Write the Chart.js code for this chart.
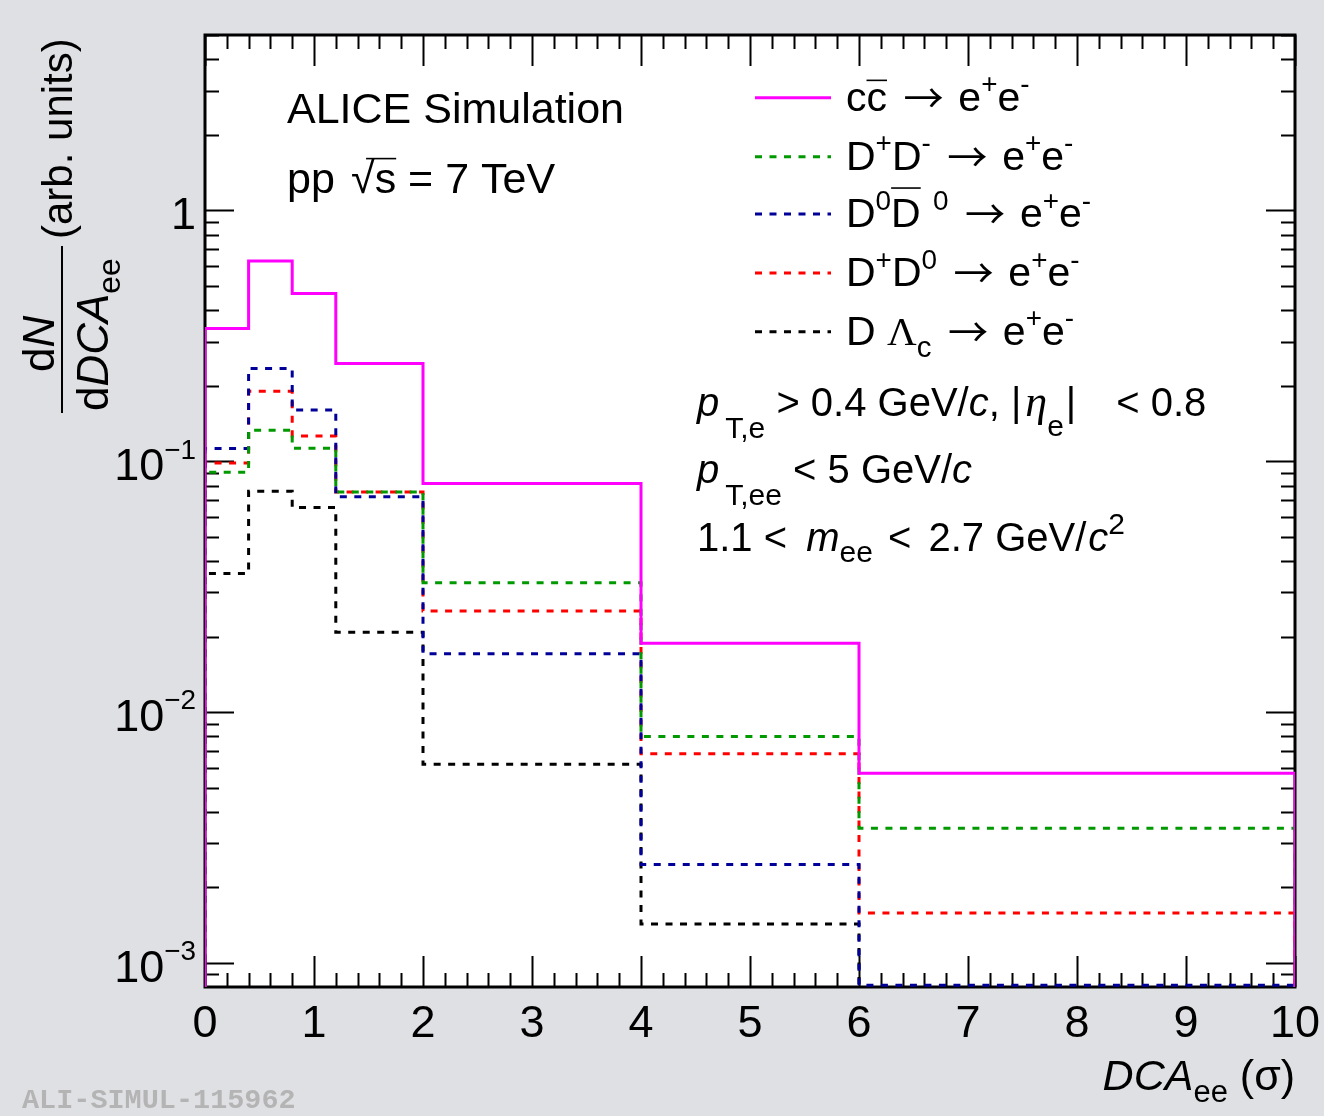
<!DOCTYPE html>
<html>
<head>
<meta charset="utf-8">
<script src="https://cdn.jsdelivr.net/npm/chart.js@4/dist/chart.umd.min.js"></script>
<style>
  html, body { margin: 0; padding: 0; background: #dfe0e4; }
  #wrap { width: 1324px; height: 1116px; }
</style>
</head>
<body>
<div id="wrap"><canvas id="dcaChart" width="1324" height="1116"></canvas></div>
<script>
// bin edges of the DCA_ee histogram (in sigma)
const binEdges = [0, 0.4, 0.8, 1.2, 2, 4, 6, 10];

// dN/dDCA_ee per bin (arb. units)
const ccbarToEE   = [0.338, 0.628, 0.466, 0.245, 0.0815, 0.0188, 0.0057];
const dPlusDMinus = [0.0904, 0.133, 0.1126, 0.0754, 0.0328, 0.0080, 0.00344];
const d0D0bar     = [0.1123, 0.234, 0.160, 0.0721, 0.0171, 0.00247, 0.000815];
const dPlusD0     = [0.0983, 0.190, 0.126, 0.0754, 0.0253, 0.00682, 0.00158];
const dLambdaC    = [0.0357, 0.0759, 0.0654, 0.0208, 0.00619, 0.00143, 0.0006];

const seriesNames  = ['cc̄ → e⁺e⁻', 'D⁺D⁻ → e⁺e⁻', 'D⁰D̄⁰ → e⁺e⁻', 'D⁺D⁰ → e⁺e⁻', 'D Λc → e⁺e⁻'];
const seriesColors = ['#ff00ff', '#009900', '#000099', '#ff0000', '#000000'];

// axes
const xMin = 0, xMax = 10;
const yMin = 8.02e-4, yMax = 5.0;
const xTicks = [0, 1, 2, 3, 4, 5, 6, 7, 8, 9, 10];
const yTickExponents = [-3, -2, -1, 0];

const SANS  = '"Liberation Sans", Arial, Helvetica, sans-serif';
const SERIF = '"Liberation Serif", "Times New Roman", serif';
const MONO  = '"Liberation Mono", "Courier New", monospace';
const ARROWFONT = '"Noto Sans CJK JP", "DejaVu Sans", sans-serif';

// turn per-bin values into a stepped outline that starts and ends on the axis floor
function toSteps(values) {
    const pts = [{ x: binEdges[0], y: yMin * 0.5 }];
    values.forEach((v, i) => pts.push({ x: binEdges[i], y: v }));
    const last = binEdges[binEdges.length - 1];
    pts.push({ x: last, y: values[values.length - 1] });
    pts.push({ x: last, y: yMin * 0.5 });
    return pts;
}

const seriesValues = [ccbarToEE, dPlusDMinus, d0D0bar, dPlusD0, dLambdaC];

const datasets = seriesValues.map((vals, i) => ({
    label: seriesNames[i],
    data: toSteps(vals),
    borderColor: seriesColors[i],
    borderWidth: 3,
    borderDash: i === 0 ? [] : [7, 7.5],
    stepped: 'before',
    pointRadius: 0,
    fill: false
}));

// ---- small rich-text helper (sub/superscripts, italics, overbars) ----
function fontFor(p, size) {
    const fam = p.fam || (p.serif ? SERIF : SANS);
    return (p.it ? 'italic ' : '') + (size * (p.sc || 1)).toFixed(1) + 'px ' + fam;
}
function drawRich(ctx, x, y, parts, size, align) {
    let total = 0;
    parts.forEach(p => {
        ctx.font = fontFor(p, size);
        total += (p.pre || 0) * size + ctx.measureText(p.t).width + (p.post || 0) * size;
    });
    let cx = align === 'right' ? x - total : (align === 'center' ? x - total / 2 : x);
    parts.forEach(p => {
        ctx.font = fontFor(p, size);
        cx += (p.pre || 0) * size;
        const w = ctx.measureText(p.t).width;
        const by = y + (p.dy || 0) * size;
        ctx.fillText(p.t, cx, by);
        if (p.bar) {
            ctx.save();
            ctx.lineWidth = 1.6;
            ctx.strokeStyle = ctx.fillStyle;
            ctx.beginPath();
            ctx.moveTo(cx + (p.barL || 0) * size, by - p.bar * size);
            ctx.lineTo(cx + w, by - p.bar * size);
            ctx.stroke();
            ctx.restore();
        }
        cx += w + (p.post || 0) * size;
    });
}
const sup = (t, extra) => Object.assign({ t: t, sc: 0.68, dy: -0.42 }, extra || {});
const sub = (t, dy, extra) => Object.assign({ t: t, sc: 0.72, dy: dy }, extra || {});
const arrow = { t: '→', fam: ARROWFONT, sc: 0.98, dy: 0.06, pre: 0.4, post: 0.36 };
const eePair = [{ t: 'e' }, sup('+'), { t: 'e' }, sup('-')];

const legendLabels = [
    [{ t: 'c' }, { t: 'c', bar: 0.74 }, arrow, ...eePair],
    [{ t: 'D' }, sup('+'), { t: 'D' }, sup('-'), arrow, ...eePair],
    [{ t: 'D' }, sup('0'), { t: 'D', bar: 0.95 }, sup('0', { pre: 0.3 }), arrow, ...eePair],
    [{ t: 'D' }, sup('+'), { t: 'D' }, sup('0'), arrow, ...eePair],
    [{ t: 'D ' }, { t: 'Λ', serif: true }, sub('c', 0.3), arrow, ...eePair]
];

const decorPlugin = {
    id: 'rootStyle',
    beforeDraw(chart) {
        const { ctx, chartArea: a } = chart;
        ctx.save();
        ctx.fillStyle = '#dfe0e4';
        ctx.fillRect(0, 0, chart.width, chart.height);
        ctx.fillStyle = '#ffffff';
        ctx.fillRect(a.left, a.top, a.right - a.left, a.bottom - a.top);
        ctx.restore();
    },
    beforeDatasetsDraw(chart) {
        const { ctx, chartArea: a, scales: { x, y } } = chart;
        ctx.save();
        ctx.strokeStyle = '#000';
        ctx.lineWidth = 2;
        ctx.beginPath();
        // x ticks: major every 1, minor every 0.2, bottom and top
        for (let k = 0; k <= 50; k++) {
            const v = xMin + k * 0.2;
            const px = Math.round(x.getPixelForValue(v)) + 0.5;
            const len = (k % 5 === 0) ? 31 : 14;
            ctx.moveTo(px, a.bottom); ctx.lineTo(px, a.bottom - len);
            ctx.moveTo(px, a.top); ctx.lineTo(px, a.top + len);
        }
        // y ticks on log scale: decades + 2..9 minors, left and right
        for (let e = -4; e <= 1; e++) {
            for (let m = 1; m <= 9; m++) {
                const v = m * Math.pow(10, e);
                if (v < yMin || v > yMax) continue;
                const py = Math.round(y.getPixelForValue(v)) + 0.5;
                const len = m === 1 ? 29 : 14;
                ctx.moveTo(a.left, py); ctx.lineTo(a.left + len, py);
                ctx.moveTo(a.right, py); ctx.lineTo(a.right - len, py);
            }
        }
        ctx.stroke();
        ctx.lineWidth = 3;
        ctx.strokeRect(a.left, a.top, a.right - a.left, a.bottom - a.top);
        ctx.restore();
    },
    afterDraw(chart) {
        const { ctx, chartArea: a, scales: { x, y } } = chart;
        ctx.save();
        ctx.fillStyle = '#000';
        ctx.textBaseline = 'alphabetic';
        ctx.textAlign = 'left';

        // tick labels
        xTicks.forEach(v => {
            drawRich(ctx, x.getPixelForValue(v), a.bottom + 50, [{ t: String(v) }], 45, 'center');
        });
        yTickExponents.forEach(e => {
            const py = y.getPixelForValue(Math.pow(10, e));
            const parts = e === 0 ? [{ t: '1' }] : [{ t: '10' }, { t: '−' + Math.abs(e), sc: 0.62, dy: -0.48 }];
            drawRich(ctx, 196, py + 19, parts, 45, 'right');
        });

        // x title
        drawRich(ctx, a.right, 1090, [{ t: 'DCA', it: true }, sub('ee', 0.27), { t: ' (σ)' }], 43, 'right');

        // y title, rotated
        ctx.save();
        ctx.rotate(-Math.PI / 2);
        // rotated frame: (x', y') -> screen (y', -x')
        drawRich(ctx, -372, 54, [{ t: 'd' }, { t: 'N', it: true }], 44, 'left');
        drawRich(ctx, -411, 108, [{ t: 'd' }, { t: 'DCA', it: true }, sub('ee', 0.27)], 44, 'left');
        drawRich(ctx, -239, 72, [{ t: '(arb. units)' }], 42, 'left');
        ctx.lineWidth = 2;
        ctx.beginPath();
        ctx.moveTo(-413, 62); ctx.lineTo(-246, 62);
        ctx.stroke();
        ctx.restore();

        // header text
        drawRich(ctx, 287, 123, [{ t: 'ALICE Simulation' }], 43);
        drawRich(ctx, 287, 193, [{ t: 'pp ' }, { t: '√', pre: 0.1 }, { t: 's', bar: 0.8, barL: -0.2 }, { t: ' = 7 TeV' }], 43);

        // legend
        const rowY = [97.7, 156.7, 214, 273, 331.7];
        legendLabels.forEach((parts, i) => {
            ctx.save();
            ctx.strokeStyle = seriesColors[i];
            ctx.lineWidth = 3;
            ctx.setLineDash(i === 0 ? [] : [7, 7.5]);
            ctx.beginPath();
            ctx.moveTo(755, rowY[i]); ctx.lineTo(831, rowY[i]);
            ctx.stroke();
            ctx.restore();
            drawRich(ctx, 846, rowY[i] + 13, parts, 41);
        });

        // kinematic cuts
        drawRich(ctx, 697, 416, [{ t: 'p', it: true }, sub('T,e', 0.56, { pre: 0.15, sc: 0.75 }), { t: ' > 0.4 GeV/' }, { t: 'c', it: true },
            { t: ', |' }, { t: 'η', it: true, serif: true, sc: 1.1, pre: 0.1 }, sub('e', 0.5, { sc: 0.75, post: 0.05 }),
            { t: '|', post: 1.0 }, { t: '< 0.8' }], 40);
        drawRich(ctx, 697, 483, [{ t: 'p', it: true }, sub('T,ee', 0.56, { pre: 0.15, sc: 0.75 }), { t: ' < 5 GeV/' }, { t: 'c', it: true }], 40);
        drawRich(ctx, 697, 551, [{ t: '1.1 < ' }, { t: 'm', it: true, pre: 0.2 }, sub('ee', 0.27, { sc: 0.75 }), { t: ' < ', pre: 0.1 },
            { t: '2.7 GeV/', pre: 0.15 }, { t: 'c', it: true, pre: 0.05 }, sup('2', { dy: -0.42, sc: 0.75 })], 40);

        // watermark
        ctx.font = 'bold 28.5px ' + MONO;
        ctx.fillStyle = '#b4b4b4';
        ctx.fillText('ALI-SIMUL-115962', 22, 1108);
        ctx.restore();
    }
};

new Chart(document.getElementById('dcaChart'), {
    type: 'line',
    data: { datasets: datasets },
    options: {
        responsive: false,
        animation: false,
        devicePixelRatio: 1,
        layout: { padding: { left: 205, right: 29, top: 35, bottom: 129 } },
        scales: {
            x: { type: 'linear', min: xMin, max: xMax, display: false },
            y: { type: 'logarithmic', min: yMin, max: yMax, display: false }
        },
        plugins: {
            legend: { display: false },
            tooltip: { enabled: false },
            title: { display: false }
        }
    },
    plugins: [decorPlugin]
});
</script>
</body>
</html>
